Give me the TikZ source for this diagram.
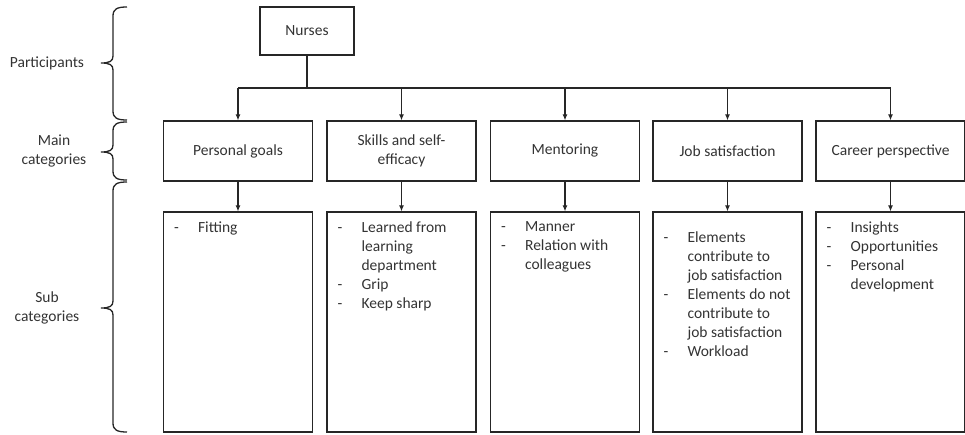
\documentclass[tikz,border=0pt]{standalone}
\usepackage{fontspec}
\setmainfont{Carlito}
\usetikzlibrary{arrows.meta}
\newcommand\dd{\makebox[24pt][l]{-}}
\newcommand\ind{\hspace*{24pt}}
\newcommand\drawbrace[3]{%
  \draw[brc] (127,#1) .. controls (117,#1) and (113,#1+2) .. (113,#1+9)
    -- (113,#2-7) .. controls (113,#2-2) and (110,#2) .. (101,#2)
    .. controls (110,#2) and (113,#2+2) .. (113,#2+7)
    -- (113,#3-9) .. controls (113,#3-2) and (117,#3) .. (127,#3);}
\begin{document}
\begin{tikzpicture}[x=1pt,y=-1pt,
  every node/.style={font=\fontsize{15.5}{19}\selectfont, text=black!80},
  box/.style={draw=black!85, line width=1.2pt, inner sep=0pt, align=center},
  mainbox/.style={box, minimum width=149pt, minimum height=60pt},
  subbox/.style={box, minimum width=149pt, minimum height=220pt},
  subtxt/.style={anchor=north west, inner sep=0pt, align=left},
  lbl/.style={align=center, inner sep=0pt},
  brc/.style={draw=black!85, line width=1.3pt},
  conn/.style={draw=black!85, line width=1.1pt},
  arr/.style={conn, -{Latex[length=6pt,width=5pt]}}]
\useasboundingbox (0,0) rectangle (965,435);

% top node
\node[box, minimum width=94pt, minimum height=48pt] (n) at (307,31) {Nurses};

% main categories
\node[mainbox] (m1) at (238,151) {Personal goals};
\node[mainbox] (m2) at (401.5,151) {Skills and self-\\efficacy};
\node[mainbox] (m3) at (565,151) {Mentoring};
\node[mainbox] (m4) at (727.5,151) {Job satisfaction};
\node[mainbox] (m5) at (890.5,151) {Career perspective};

% sub categories boxes
\node[subbox] (s1) at (238,322) {};
\node[subbox] (s2) at (401.5,322) {};
\node[subbox] (s3) at (565,322) {};
\node[subbox] (s4) at (727.5,322) {};
\node[subbox] (s5) at (890.5,322) {};

% sub category texts
\node[subtxt] (t1) at ([shift={(11,10)}]s1.north west) {\dd Fitting};
\node[subtxt] (t2) at ([shift={(11,10)}]s2.north west)
  {\dd Learned from\\ \ind learning\\ \ind department\\ \dd Grip\\ \dd Keep sharp};
\node[subtxt] (t3) at ([shift={(11,10)}]s3.north west)
  {\dd Manner\\ \dd Relation with\\ \ind colleagues};
\node[subtxt] (t4) at ([shift={(11,20)}]s4.north west)
  {\dd Elements\\ \ind contribute to\\ \ind job satisfaction\\ \dd Elements do not\\ \ind contribute to\\ \ind job satisfaction\\ \dd Workload};
\node[subtxt] (t5) at ([shift={(11,10)}]s5.north west)
  {\dd Insights\\ \dd Opportunities\\ \dd Personal\\ \ind development};

% connectors
\coordinate (bar) at (307,88);
\draw[conn] (n.south) -- (bar);
\draw[conn] (m1.north |- bar) -- (m5.north |- bar);
\foreach \i in {1,...,5}{
  \draw[arr] (m\i.north |- bar) -- (m\i.north);
  \draw[arr] (m\i.south) -- (s\i.north);
}

% braces and labels
\drawbrace{7}{63}{120}
\drawbrace{122}{152}{180}
\drawbrace{182}{308}{432}
\node[lbl] (lp) at (47,63) {Participants};
\node[lbl] (lm) at (54,151) {Main\\categories};
\node[lbl] (ls) at (47,308) {Sub\\categories};
\end{tikzpicture}
\end{document}
